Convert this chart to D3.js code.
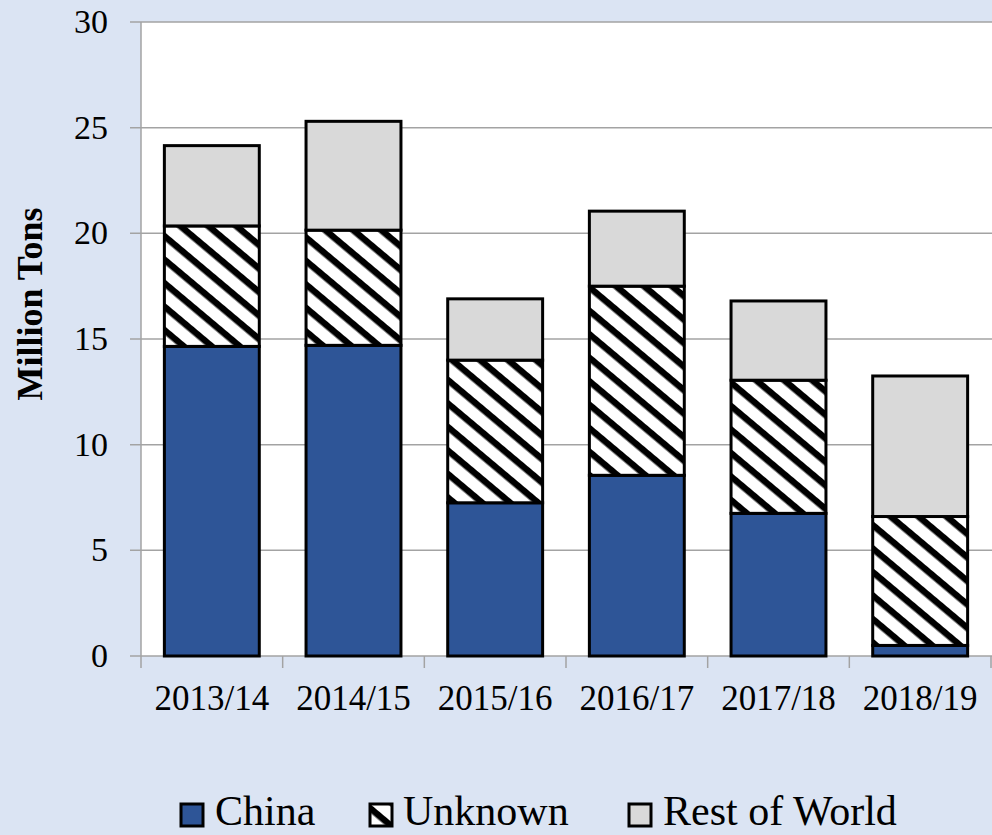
<!DOCTYPE html>
<html>
<head>
<meta charset="utf-8">
<script src="https://cdn.jsdelivr.net/npm/d3@7"></script>
<style>
  html, body { margin: 0; padding: 0; background: #dbe4f3; }
  svg { display: block; }
  text { font-family: "Liberation Serif", "Times New Roman", serif; fill: #000; }
</style>
</head>
<body>
<svg id="chart" width="992" height="835"></svg>
<script>
// data (million tons)
var years = ['2013/14', '2014/15', '2015/16', '2016/17', '2017/18', '2018/19'];
var china = [14.65, 14.7, 7.25, 8.55, 6.75, 0.5];
var unknown = [5.7, 5.45, 6.75, 8.95, 6.3, 6.1];
var restOfWorld = [3.8, 5.15, 2.9, 3.55, 3.75, 6.65];
var yTicks = [0, 5, 10, 15, 20, 25, 30];
var seriesNames = ['China', 'Unknown', 'Rest of World'];

var BG = '#dbe4f3',
	CHINA_BLUE = '#2e5597',
	ROW_GRAY = '#d9d9d9',
	GRID = '#a3a3a3';

var svg = d3.select('#chart');

var plot = { left: 141, right: 992, top: 22, bottom: 656 };

var rows = years.map(function(y, i) {
	return { year: y, China: china[i], Unknown: unknown[i], 'Rest of World': restOfWorld[i] };
});

var x = d3.scaleBand()
	.domain(years)
	.range([plot.left, 991])
	.paddingInner(0.33)
	.paddingOuter(0.165);

var y = d3.scaleLinear()
	.domain([0, 30])
	.range([plot.bottom, plot.top]);

// hatch pattern for "Unknown"
var defs = svg.append('defs');
var hatch = defs.append('pattern')
	.attr('id', 'hatch')
	.attr('patternUnits', 'userSpaceOnUse')
	.attr('width', 18)
	.attr('height', 18)
	.attr('patternTransform', 'rotate(40)');
hatch.append('rect').attr('width', 18).attr('height', 18).attr('fill', '#fff');
hatch.append('rect').attr('width', 18).attr('height', 6.5).attr('fill', '#000');

var fills = { 'China': CHINA_BLUE, 'Unknown': 'url(#hatch)', 'Rest of World': ROW_GRAY };

svg.append('rect')
	.attr('width', 992).attr('height', 835)
	.attr('fill', BG);

svg.append('rect')
	.attr('x', plot.left).attr('y', plot.top)
	.attr('width', plot.right - plot.left).attr('height', plot.bottom - plot.top)
	.attr('fill', '#fff');

// gridlines + y ticks
svg.append('g')
	.selectAll('line')
	.data(yTicks)
	.enter().append('line')
		.attr('x1', 130).attr('x2', plot.right)
		.attr('y1', function(d) { return y(d); })
		.attr('y2', function(d) { return y(d); })
		.attr('stroke', GRID)
		.attr('stroke-width', 1.5);

svg.append('line')
	.attr('x1', plot.left).attr('x2', plot.left)
	.attr('y1', plot.top).attr('y2', plot.bottom)
	.attr('stroke', GRID).attr('stroke-width', 1.5);

svg.append('g')
	.selectAll('text')
	.data(yTicks)
	.enter().append('text')
		.attr('x', 108)
		.attr('y', function(d) { return y(d) + 11; })
		.attr('text-anchor', 'end')
		.style('font-size', '34px')
		.text(function(d) { return d; });

// x ticks at band boundaries
var boundaries = years.map(function(d) { return x(d) - x.step() * x.paddingInner() / 2; });
boundaries.push(x(years[years.length - 1]) + x.bandwidth() + x.step() * x.paddingInner() / 2);

svg.append('g')
	.selectAll('line')
	.data(boundaries)
	.enter().append('line')
		.attr('x1', function(d) { return d; })
		.attr('x2', function(d) { return d; })
		.attr('y1', plot.bottom).attr('y2', plot.bottom + 12)
		.attr('stroke', GRID).attr('stroke-width', 1.5);

svg.append('g')
	.selectAll('text')
	.data(years)
	.enter().append('text')
		.attr('x', function(d) { return x(d) + x.bandwidth() / 2; })
		.attr('y', 710)
		.attr('text-anchor', 'middle')
		.style('font-size', '35px')
		.text(function(d) { return d; });

// stacked bars
var stacked = d3.stack().keys(seriesNames)(rows);

var layers = svg.append('g')
	.selectAll('g')
	.data(stacked)
	.enter().append('g')
		.attr('fill', function(d) { return fills[d.key]; });

layers.selectAll('rect')
	.data(function(d) { return d; })
	.enter().append('rect')
		.attr('x', function(d) { return x(d.data.year); })
		.attr('y', function(d) { return y(d[1]); })
		.attr('width', x.bandwidth())
		.attr('height', function(d) { return y(d[0]) - y(d[1]); })
		.attr('stroke', '#000')
		.attr('stroke-width', 3);

// y axis title
svg.append('text')
	.attr('transform', 'translate(42,304) rotate(-90)')
	.attr('text-anchor', 'middle')
	.style('font-size', '36px')
	.style('font-weight', 'bold')
	.text('Million Tons');

// legend
var legendX = [181, 370, 629],
	legendText = [215, 403, 663];

var legend = svg.append('g')
	.selectAll('g')
	.data(seriesNames)
	.enter().append('g');

legend.append('rect')
	.attr('x', function(d, i) { return legendX[i]; })
	.attr('y', 804)
	.attr('width', 22).attr('height', 22)
	.attr('fill', function(d) { return fills[d]; })
	.attr('stroke', '#000')
	.attr('stroke-width', 3);

legend.append('text')
	.attr('x', function(d, i) { return legendText[i]; })
	.attr('y', 825)
	.style('font-size', '42px')
	.text(function(d) { return d; });
</script>
</body>
</html>
